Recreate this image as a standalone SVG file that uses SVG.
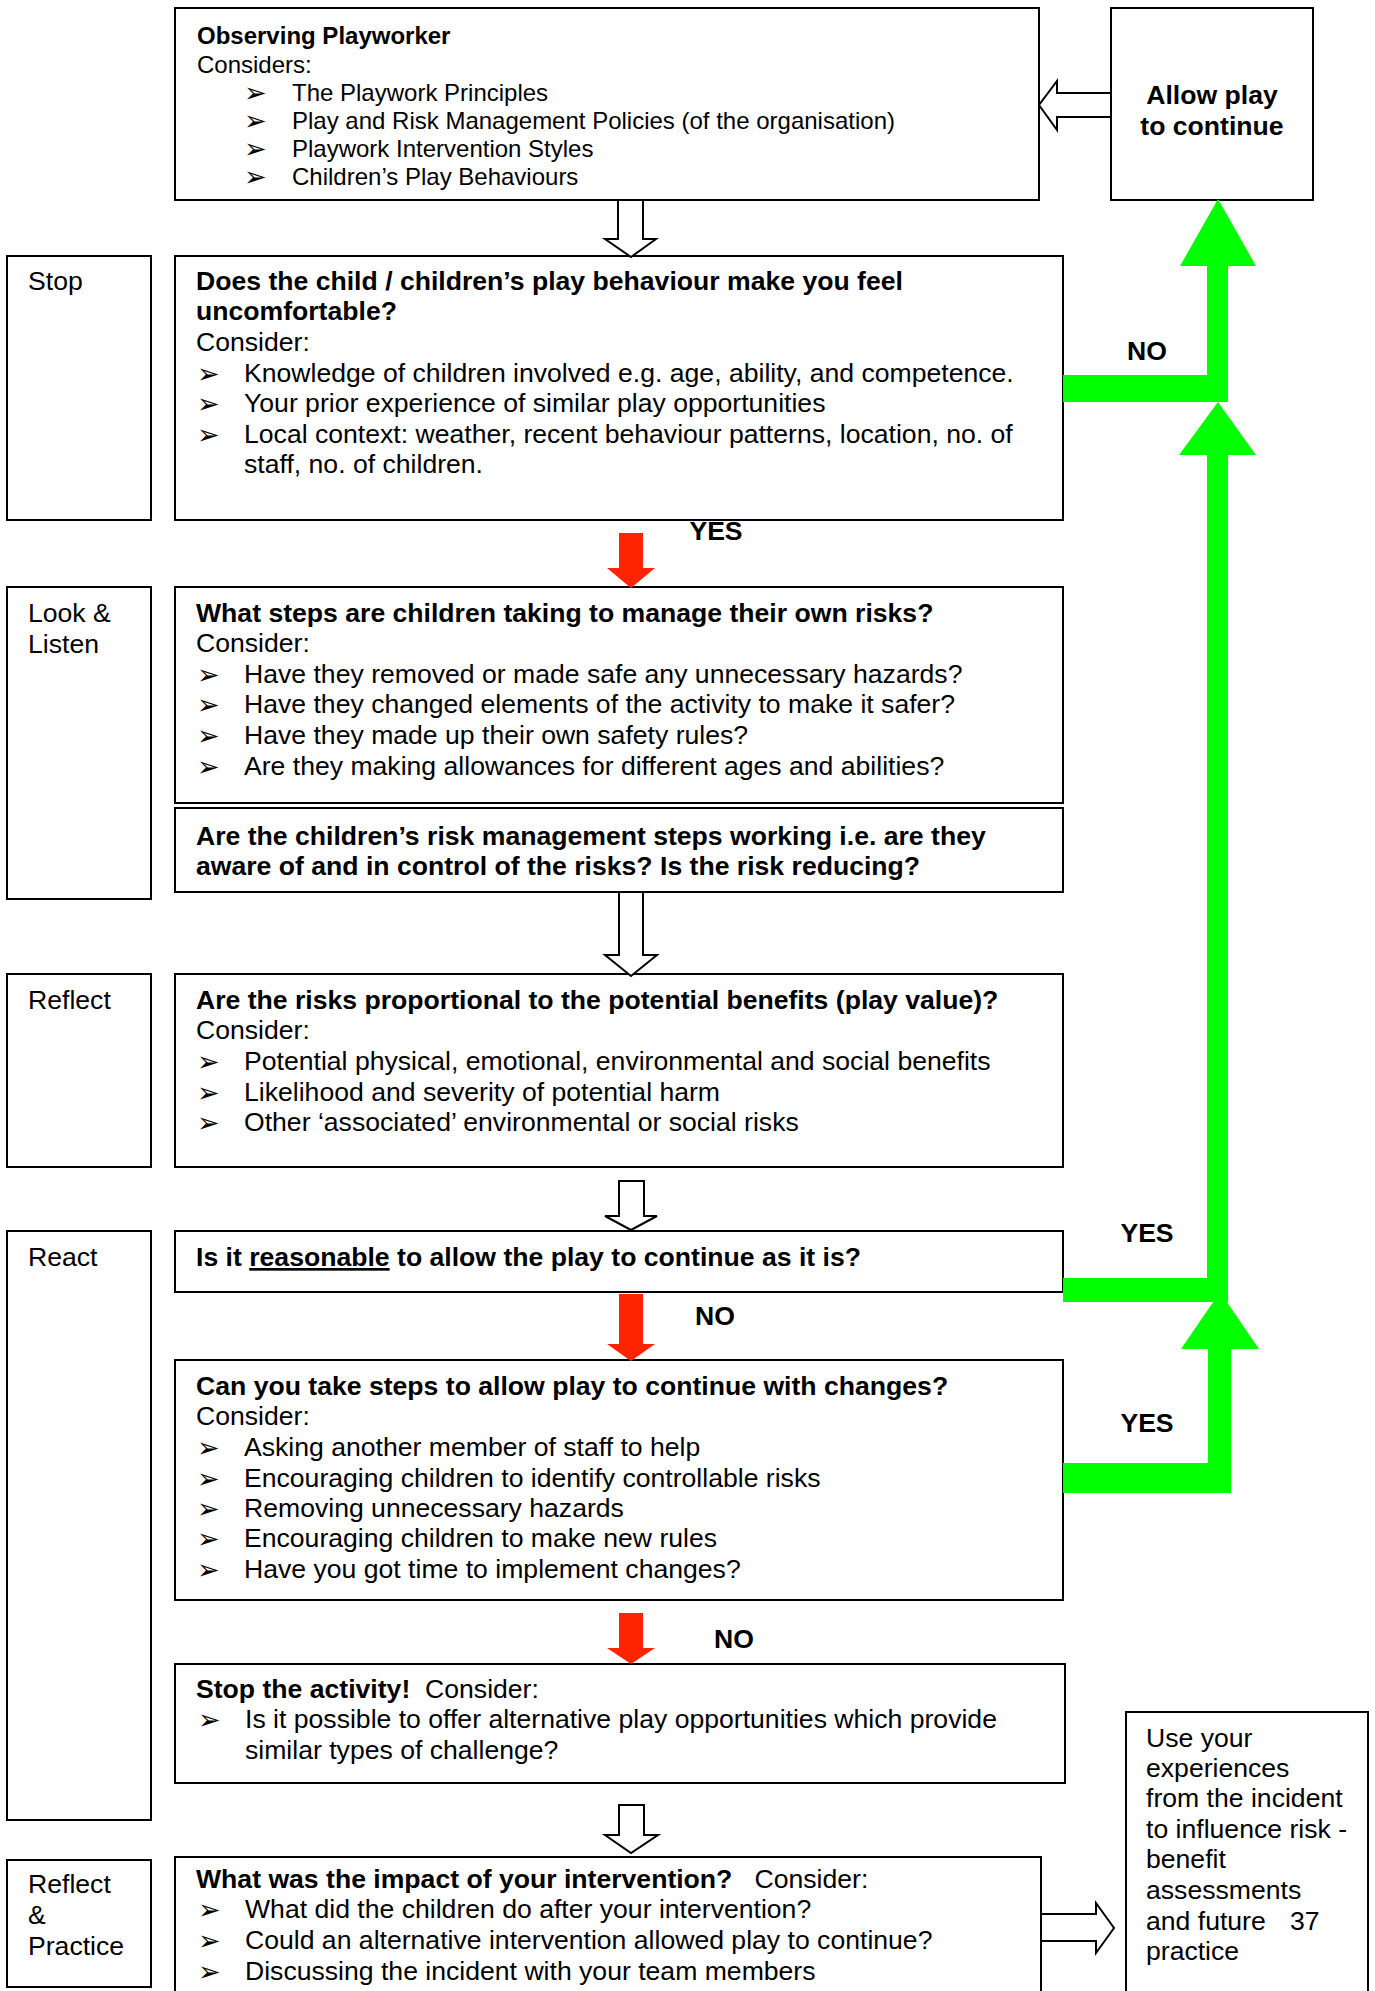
<svg xmlns="http://www.w3.org/2000/svg" width="1375" height="1991" viewBox="0 0 1375 1991">
<style>
.box{fill:#fff;stroke:#000;stroke-width:2}
.t{font-family:"Liberation Sans",Arial,sans-serif;font-size:26.6px;fill:#000}
.s24{font-size:24px}
.b{font-weight:bold}
.bul{font-family:"DejaVu Sans",sans-serif;font-size:27px;fill:#000}
.hol{fill:#fff;stroke:#000;stroke-width:2;stroke-linejoin:miter}
.grn{fill:#00ff00}
.red{fill:#ff2400}
.mid{text-anchor:middle}
</style>
<rect width="1375" height="1991" fill="#fff"/>

<g id="observing">
<rect class="box" x="175" y="8" width="864" height="192"/>
<text class="t s24 b" x="197" y="44">Observing Playworker</text>
<text class="t s24" x="197" y="73">Considers:</text>
<text class="bul" x="244" y="102">➢</text><text class="t s24" x="292" y="101">The Playwork Principles</text>
<text class="bul" x="244" y="130">➢</text><text class="t s24" x="292" y="129">Play and Risk Management Policies (of the organisation)</text>
<text class="bul" x="244" y="158">➢</text><text class="t s24" x="292" y="157">Playwork Intervention Styles</text>
<text class="bul" x="244" y="186">➢</text><text class="t s24" x="292" y="185">Children’s Play Behaviours</text>
</g>

<g id="allow">
<rect class="box" x="1111" y="8" width="202" height="192"/>
<text class="t b mid" x="1212" y="104">Allow play</text>
<text class="t b mid" x="1212" y="135">to continue</text>
</g>

<g id="label-stop">
<rect class="box" x="7" y="256" width="144" height="264"/>
<text class="t" x="28" y="290">Stop</text>
</g>
<g id="q-uncomfortable">
<rect class="box" x="175" y="256" width="888" height="264"/>
<text class="t b" x="196" y="290">Does the child / children’s play behaviour make you feel</text>
<text class="t b" x="196" y="320">uncomfortable?</text>
<text class="t" x="196" y="351">Consider:</text>
<text class="bul" x="197" y="383">➢</text><text class="t" x="244" y="382">Knowledge of children involved e.g. age, ability, and competence.</text>
<text class="bul" x="197" y="413">➢</text><text class="t" x="244" y="412">Your prior experience of similar play opportunities</text>
<text class="bul" x="197" y="444">➢</text><text class="t" x="244" y="443">Local context: weather, recent behaviour patterns, location, no. of</text>
<text class="t" x="244" y="473">staff, no. of children.</text>
</g>

<g id="label-look">
<rect class="box" x="7" y="587" width="144" height="312"/>
<text class="t" x="28" y="622">Look &amp;</text>
<text class="t" x="28" y="653">Listen</text>
</g>
<g id="q-steps">
<rect class="box" x="175" y="587" width="888" height="216"/>
<text class="t b" x="196" y="622">What steps are children taking to manage their own risks?</text>
<text class="t" x="196" y="652">Consider:</text>
<text class="bul" x="197" y="684">➢</text><text class="t" x="244" y="683">Have they removed or made safe any unnecessary hazards?</text>
<text class="bul" x="197" y="714">➢</text><text class="t" x="244" y="713">Have they changed elements of the activity to make it safer?</text>
<text class="bul" x="197" y="745">➢</text><text class="t" x="244" y="744">Have they made up their own safety rules?</text>
<text class="bul" x="197" y="776">➢</text><text class="t" x="244" y="775">Are they making allowances for different ages and abilities?</text>
</g>
<g id="q-working">
<rect class="box" x="175" y="808" width="888" height="84"/>
<text class="t b" x="196" y="845">Are the children’s risk management steps working i.e. are they</text>
<text class="t b" x="196" y="875">aware of and in control of the risks? Is the risk reducing?</text>
</g>

<g id="label-reflect">
<rect class="box" x="7" y="974" width="144" height="193"/>
<text class="t" x="28" y="1009">Reflect</text>
</g>
<g id="q-proportional">
<rect class="box" x="175" y="974" width="888" height="193"/>
<text class="t b" x="196" y="1009">Are the risks proportional to the potential benefits (play value)?</text>
<text class="t" x="196" y="1039">Consider:</text>
<text class="bul" x="197" y="1071">➢</text><text class="t" x="244" y="1070">Potential physical, emotional, environmental and social benefits</text>
<text class="bul" x="197" y="1102">➢</text><text class="t" x="244" y="1101">Likelihood and severity of potential harm</text>
<text class="bul" x="197" y="1132">➢</text><text class="t" x="244" y="1131">Other ‘associated’ environmental or social risks</text>
</g>

<g id="label-react">
<rect class="box" x="7" y="1231" width="144" height="589"/>
<text class="t" x="28" y="1266">React</text>
</g>
<g id="q-reasonable">
<rect class="box" x="175" y="1231" width="888" height="61"/>
<text class="t b" x="196" y="1266">Is it <tspan text-decoration="underline">reasonable</tspan> to allow the play to continue as it is?</text>
</g>
<g id="q-changes">
<rect class="box" x="175" y="1360" width="888" height="240"/>
<text class="t b" x="196" y="1395">Can you take steps to allow play to continue with changes?</text>
<text class="t" x="196" y="1425">Consider:</text>
<text class="bul" x="197" y="1457">➢</text><text class="t" x="244" y="1456">Asking another member of staff to help</text>
<text class="bul" x="197" y="1488">➢</text><text class="t" x="244" y="1487">Encouraging children to identify controllable risks</text>
<text class="bul" x="197" y="1518">➢</text><text class="t" x="244" y="1517">Removing unnecessary hazards</text>
<text class="bul" x="197" y="1548">➢</text><text class="t" x="244" y="1547">Encouraging children to make new rules</text>
<text class="bul" x="197" y="1579">➢</text><text class="t" x="244" y="1578">Have you got time to implement changes?</text>
</g>
<g id="stop-activity">
<rect class="box" x="175" y="1664" width="890" height="119"/>
<text class="t" x="196" y="1698" xml:space="preserve"><tspan class="b">Stop the activity!</tspan>  Consider:</text>
<text class="bul" x="198" y="1729">➢</text><text class="t" x="245" y="1728">Is it possible to offer alternative play opportunities which provide</text>
<text class="t" x="245" y="1759">similar types of challenge?</text>
</g>

<g id="label-practice">
<rect class="box" x="7" y="1860" width="144" height="127"/>
<text class="t" x="28" y="1893">Reflect</text>
<text class="t" x="28" y="1924">&amp;</text>
<text class="t" x="28" y="1955">Practice</text>
</g>
<g id="q-impact">
<rect class="box" x="175" y="1857" width="866" height="150"/>
<text class="t" x="196" y="1888" xml:space="preserve"><tspan class="b">What was the impact of your intervention?</tspan>   Consider:</text>
<text class="bul" x="198" y="1919">➢</text><text class="t" x="245" y="1918">What did the children do after your intervention?</text>
<text class="bul" x="198" y="1950">➢</text><text class="t" x="245" y="1949">Could an alternative intervention allowed play to continue?</text>
<text class="bul" x="198" y="1981">➢</text><text class="t" x="245" y="1980">Discussing the incident with your team members</text>
</g>
<g id="use-experiences">
<rect class="box" x="1126" y="1712" width="242" height="300"/>
<text class="t" x="1146" y="1747">Use your</text>
<text class="t" x="1146" y="1777">experiences</text>
<text class="t" x="1146" y="1807">from the incident</text>
<text class="t" x="1146" y="1838">to influence risk -</text>
<text class="t" x="1146" y="1868">benefit</text>
<text class="t" x="1146" y="1899">assessments</text>
<text class="t" x="1146" y="1930">and future</text>
<text class="t" x="1290" y="1930">37</text>
<text class="t" x="1146" y="1960">practice</text>
</g>

<g id="connectors">
<polygon class="hol" points="1111,93 1057,93 1057,81 1039,105 1057,130 1057,117 1111,117"/>
<polygon class="hol" points="618,200 643,200 643,239 656,239 631,257 605,239 618,239"/>
<polygon class="hol" points="619,892 643,892 643,955 657,955 631,976 605,955 619,955"/>
<polygon class="hol" points="619,1181 644,1181 644,1216 657,1216 631,1230 605,1216 619,1216"/>
<polygon class="hol" points="619,1805 644,1805 644,1835 658,1835 631,1853 605,1835 619,1835"/>
<polygon class="hol" points="1041,1914 1096,1914 1096,1903 1114,1928 1096,1953 1096,1941 1041,1941"/>

<polygon class="red" points="619,533 643,533 643,568 655,568 631,588 607,568 619,568"/>
<polygon class="red" points="619,1294 643,1294 643,1344 655,1344 631,1361 607,1344 619,1344"/>
<polygon class="red" points="619,1613 643,1613 643,1648 655,1648 631,1664 607,1648 619,1648"/>

<polygon class="grn" points="1207,402 1207,266 1180,266 1218,199 1256,266 1228,266 1228,402"/>
<rect class="grn" x="1063" y="375" width="165" height="27"/>
<polygon class="grn" points="1207,1293 1207,455 1179,455 1218,402 1256,455 1228,455 1228,1293"/>
<rect class="grn" x="1063" y="1278" width="165" height="24"/>
<polygon class="grn" points="1208,1493 1208,1349 1181,1349 1220,1292 1259,1349 1231,1349 1231,1493"/>
<rect class="grn" x="1063" y="1463" width="168" height="30"/>

<text class="t b mid" x="1147" y="360">NO</text>
<text class="t b mid" x="1147" y="1242">YES</text>
<text class="t b mid" x="1147" y="1432">YES</text>
<text class="t b mid" x="716" y="540">YES</text>
<text class="t b mid" x="715" y="1325">NO</text>
<text class="t b mid" x="734" y="1648">NO</text>
</g>
</svg>
